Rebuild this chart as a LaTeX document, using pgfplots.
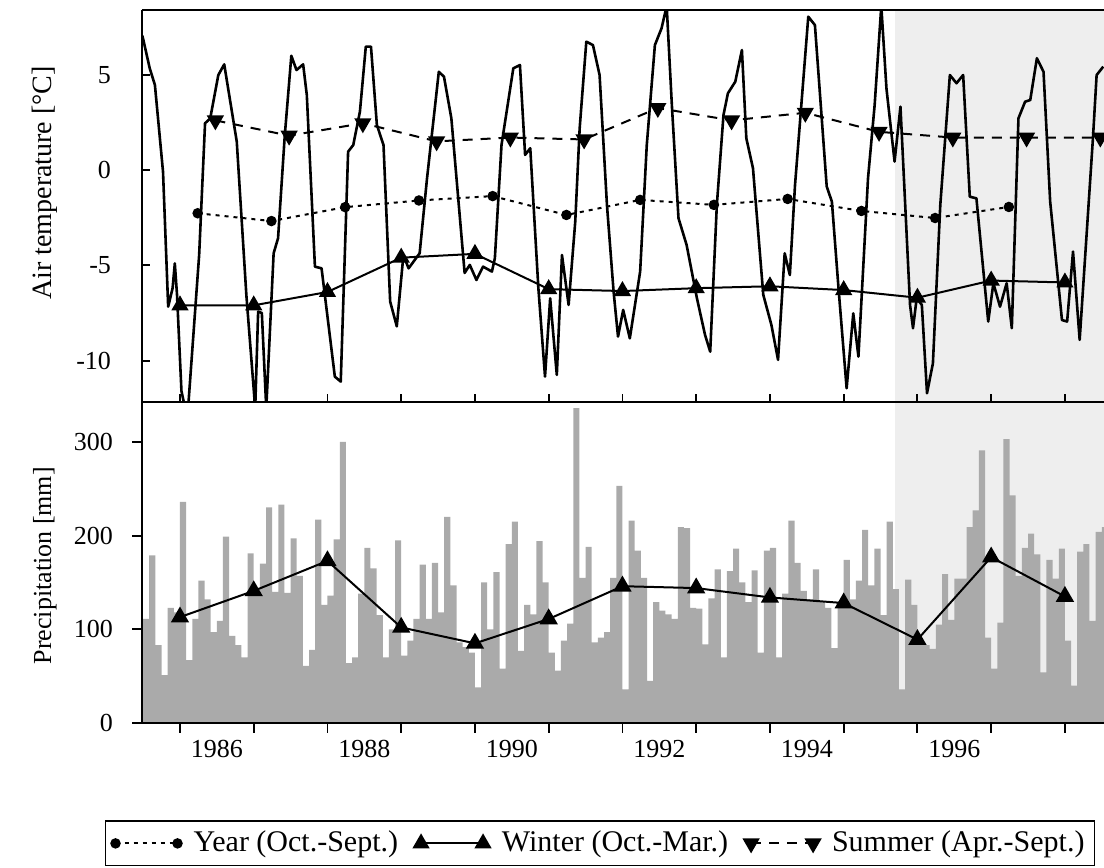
\documentclass[border=0pt]{standalone}
\usepackage{fontspec}
\setmainfont{Liberation Serif}
\usepackage{pgfplots}
\pgfplotsset{compat=1.18}
\usepackage{pgfplotstable}

\definecolor{bargray}{RGB}{170,170,170}
\definecolor{lightband}{RGB}{238,238,238}

% monthly air temperature (traced line), year / deg C
\pgfplotstableread{
t T
1985.49 7.05
1985.59 5.33
1985.66 4.46
1985.77 -0.09
1985.84 -7.17
1985.90 -6.20
1985.93 -4.90
1985.96 -6.55
1986.02 -11.60
1986.07 -12.50
1986.11 -12.50
1986.26 -4.46
1986.34 2.45
1986.41 2.70
1986.52 4.98
1986.60 5.54
1986.77 1.49
1986.90 -6.55
1987.02 -12.50
1987.06 -7.43
1987.11 -7.50
1987.17 -12.50
1987.27 -4.37
1987.33 -3.58
1987.42 1.75
1987.51 5.99
1987.58 5.24
1987.67 5.54
1987.72 3.93
1987.83 -5.07
1987.92 -5.16
1988.10 -10.84
1988.18 -11.10
1988.28 0.96
1988.35 1.31
1988.44 3.06
1988.52 6.47
1988.59 6.47
1988.67 2.36
1988.76 1.31
1988.85 -6.90
1988.94 -8.20
1989.03 -4.46
1989.10 -5.16
1989.25 -4.37
1989.35 -0.44
1989.51 5.15
1989.58 4.89
1989.68 2.71
1989.86 -5.40
1989.93 -4.98
1990.02 -5.77
1990.11 -5.07
1990.23 -5.33
1990.27 -4.63
1990.36 1.31
1990.52 5.33
1990.61 5.50
1990.68 0.79
1990.75 1.14
1990.86 -6.20
1990.95 -10.84
1991.02 -6.73
1991.11 -10.75
1991.18 -4.46
1991.27 -7.08
1991.36 -2.71
1991.42 2.19
1991.51 6.73
1991.60 6.55
1991.69 4.98
1991.79 -1.84
1991.88 -6.38
1991.94 -8.74
1992.01 -7.34
1992.10 -8.83
1992.24 -5.33
1992.33 1.31
1992.44 6.55
1992.53 7.43
1992.60 8.60
1992.67 3.41
1992.76 -2.53
1992.87 -3.93
1993.01 -6.73
1993.12 -8.65
1993.19 -9.53
1993.28 -1.84
1993.37 2.88
1993.43 4.02
1993.53 4.63
1993.62 6.29
1993.68 1.66
1993.77 0.09
1993.91 -6.55
1994.02 -8.13
1994.11 -9.96
1994.20 -4.37
1994.27 -5.51
1994.34 -0.80
1994.52 8.04
1994.61 7.60
1994.77 -0.87
1994.84 -1.66
1994.93 -6.20
1995.04 -11.45
1995.13 -7.52
1995.20 -9.79
1995.33 -0.44
1995.42 3.41
1995.51 8.60
1995.58 4.28
1995.69 0.44
1995.77 3.32
1995.83 -1.49
1995.90 -7.08
1995.94 -8.30
1995.99 -6.73
1996.06 -7.08
1996.13 -11.71
1996.21 -10.14
1996.31 -1.84
1996.44 4.98
1996.53 4.55
1996.62 4.98
1996.71 -1.40
1996.80 -1.49
1996.96 -7.95
1997.03 -5.94
1997.12 -7.17
1997.21 -5.94
1997.28 -8.30
1997.37 2.71
1997.46 3.58
1997.53 3.67
1997.62 5.86
1997.71 5.15
1997.80 -1.66
1997.96 -7.87
1998.03 -7.95
1998.11 -4.28
1998.20 -8.91
1998.38 1.66
1998.43 4.98
1998.52 5.42
}\temptable

% seasonal means of air temperature
\pgfplotstableread{
t T
1986.24 -2.27
1987.24 -2.68
1988.24 -1.95
1989.24 -1.60
1990.24 -1.37
1991.24 -2.36
1992.24 -1.57
1993.24 -1.83
1994.24 -1.52
1995.24 -2.15
1996.24 -2.52
1997.24 -1.94
}\tyear
\pgfplotstableread{
t T
1986 -7.10
1987 -7.10
1988 -6.40
1989 -4.60
1990 -4.40
1991 -6.25
1992 -6.35
1993 -6.20
1994 -6.10
1995 -6.30
1996 -6.70
1997 -5.80
1998 -5.90
}\twinter
\pgfplotstableread{
t T
1986.48 2.60
1987.48 1.80
1988.48 2.45
1989.48 1.50
1990.48 1.70
1991.48 1.60
1992.48 3.25
1993.48 2.60
1994.48 3.00
1995.48 2.00
1996.48 1.70
1997.48 1.70
1998.48 1.70
}\tsummer

% monthly precipitation, month index m from July 1985, mm
\pgfplotstableread{
m P
0 111
1 179
2 83
3 51
4 123
5 118
6 236
7 67
8 111
9 152
10 132
11 97
12 109
13 199
14 93
15 83
16 70
17 181
18 141
19 170
20 230
21 140
22 233
23 139
24 197
25 157
26 61
27 78
28 217
29 126
30 136
31 196
32 300
33 64
34 70
35 138
36 187
37 165
38 115
39 70
40 100
41 195
42 72
43 88
44 111
45 169
46 111
47 171
48 118
49 220
50 147
51 86
52 81
53 75
54 38
55 150
56 100
57 161
58 58
59 191
60 215
61 77
62 126
63 116
64 194
65 150
66 75
67 56
68 88
69 106
70 336
71 155
72 188
73 86
74 91
75 97
76 155
77 253
78 36
79 216
80 184
81 155
82 45
83 129
84 120
85 116
86 111
87 209
88 208
89 123
90 122
91 84
92 133
93 164
94 70
95 162
96 186
97 150
98 129
99 163
100 75
101 184
102 187
103 70
104 138
105 216
106 171
107 141
108 132
109 164
110 129
111 123
112 80
113 129
114 174
115 132
116 152
117 206
118 147
119 186
120 115
121 215
122 143
123 36
124 153
125 126
126 83
127 83
128 79
129 105
130 159
131 110
132 154
133 154
134 209
135 227
136 291
137 91
138 58
139 107
140 303
141 243
142 157
143 187
144 202
145 180
146 54
147 174
148 154
149 186
150 88
151 40
152 183
153 191
154 109
155 204
156 209
157 209
}\prectable

% winter precipitation means
\pgfplotstableread{
t P
1986 113
1987 141
1988 173
1989 102
1990 85
1991 111
1992 146
1993 144
1994 134
1995 128
1996 89
1997 177
1998 135
}\pwinter

\pgfplotsset{
  panel/.style={
    scale only axis, width=481pt,
    xmin=1985.485, xmax=1998.53,
    axis x line*=box, axis y line*=left,
    axis line style={line width=1.1pt},
    xtick={1986,...,1998}, xticklabels={},
    xtick pos=left, ytick pos=left,
    major tick style={line width=0.9pt, black},
    /pgf/number format/assume math mode=true,
    axis on top,
  },
}

\begin{document}
\fontsize{13}{15}\selectfont
\begin{tikzpicture}
\path[use as bounding box] (-71pt,-72.5pt) rectangle (481pt,361.5pt);

% air temperature
\begin{axis}[panel,
  at={(0pt,160.5pt)}, anchor=south west, height=196pt,
  ymin=-12.17, ymax=8.39,
  ytick={-10,-5,0,5},
  tick align=inside, major tick length=4pt,
  yticklabel style={xshift=-11pt},
  ylabel={Air temperature [°C]},
  ylabel style={at={(axis description cs:-0.101,0.559)}, anchor=center,
    font=\fontsize{14}{16}\selectfont},
  legend style={at={(0.476,-1.126)}, anchor=center, draw=black,
    line width=0.6pt, legend columns=3, inner xsep=3pt, inner ysep=3pt,
    font=\fontsize{15}{18}\selectfont,
    /tikz/every odd column/.append style={column sep=4pt},
    /tikz/every even column/.append style={column sep=6pt}},
  legend image code/.code={\draw plot coordinates {(0pt,0pt) (31pt,0pt)};},
]
\fill[fill=lightband] (axis cs:1995.70,-12.17) rectangle (axis cs:1998.53,8.39);
\addplot[black, line width=1.3pt, line join=round, forget plot] table[x=t, y=T] {\temptable};
\addplot[black, line width=1pt, dash pattern=on 2pt off 2.5pt,
  mark=*, mark size=2.1pt, mark options={solid}] table[x=t, y=T] {\tyear};
\addlegendentry{Year (Oct.-Sept.)}
\addplot[black, line width=1pt,
  mark=triangle*, mark size=4pt, mark options={solid}] table[x=t, y=T] {\twinter};
\addlegendentry{Winter (Oct.-Mar.)}
\addplot[black, line width=1pt, dash pattern=on 5pt off 4pt,
  mark=triangle*, mark size=4pt, mark options={solid, rotate=180}] table[x=t, y=T] {\tsummer};
\addlegendentry{Summer (Apr.-Sept.)}
\end{axis}

% precipitation
\begin{axis}[panel,
  at={(0pt,0pt)}, anchor=south west, height=160.5pt,
  ymin=0, ymax=342.6,
  ytick={0,100,200,300},
  tick align=outside, major tick length=5pt,
  yticklabel style={xshift=-5pt},
  extra x ticks={1986.5,1988.5,1990.5,1992.5,1994.5,1996.5},
  extra x tick labels={1986,1988,1990,1992,1994,1996},
  extra x tick style={major tick length=0pt, xticklabel style={yshift=-4pt}},
  ylabel={Precipitation [mm]},
  ylabel style={at={(axis description cs:-0.101,0.49)}, anchor=center},
]
\fill[fill=lightband] (axis cs:1995.70,0) rectangle (axis cs:1998.53,342.6);
\addplot[fill=bargray, draw=none, const plot mark left]
  table[x expr={1985.5+\thisrow{m}/12}, y=P] {\prectable} \closedcycle;
\addplot[black, line width=1pt, mark=triangle*, mark size=4.3pt]
  table[x=t, y=P] {\pwinter};
\end{axis}
\end{tikzpicture}
\end{document}
